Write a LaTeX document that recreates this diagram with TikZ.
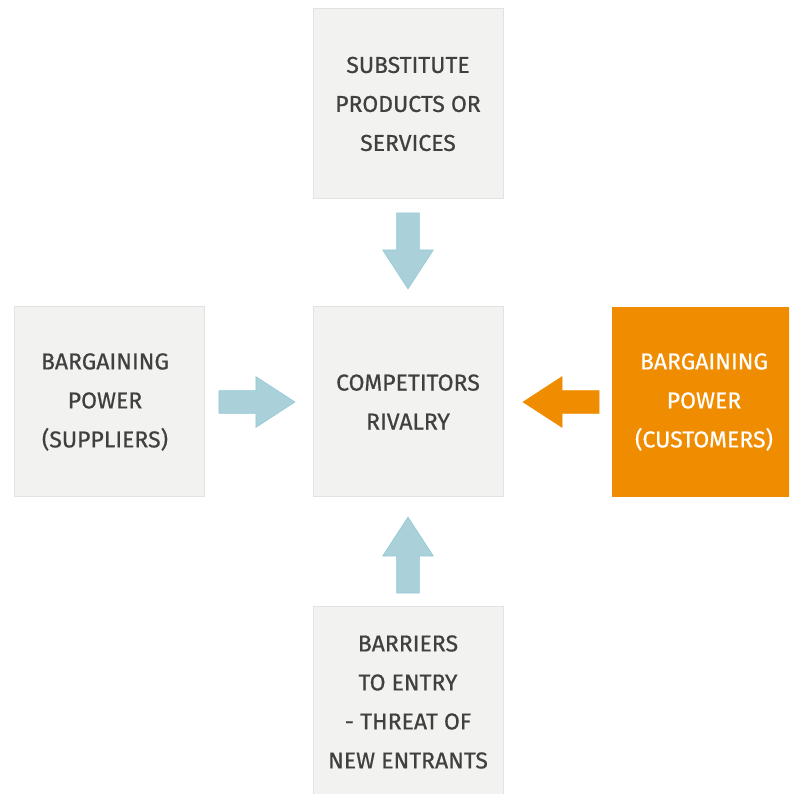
\documentclass[tikz,border=0pt]{standalone}
\usepackage{fontspec}
\setmainfont{Fira Sans}
\newfontfamily\labelfont{Fira Sans}[FakeBold=0.6]
\usetikzlibrary{shapes.arrows,calc}
\definecolor{boxfill}{HTML}{F2F2F1}
\definecolor{boxline}{HTML}{E2E2E2}
\definecolor{txt}{HTML}{404040}
\definecolor{orng}{HTML}{F08C00}
\definecolor{arrfill}{HTML}{AAD1DA}
\definecolor{arrline}{HTML}{92C9D6}
\tikzset{
  forcebox/.style={draw=boxline,line width=1pt,fill=boxfill,minimum width=190pt,minimum height=190pt,
    inner sep=0pt,align=center,text=txt,font=\labelfont\fontsize{23}{39}\selectfont},
  hotbox/.style={forcebox,draw=none,fill=orng,text=white},
  blockarrow/.style={single arrow,draw=arrline,line width=0.6pt,fill=arrfill,inner sep=11pt,
    minimum height=76pt,minimum width=50pt,single arrow head extend=14pt,single arrow head indent=0pt,
    single arrow tip angle=66,anchor=tip},
  hotarrow/.style={blockarrow,draw=orng,fill=orng}
}
\begin{document}
\begin{tikzpicture}[x=1pt,y=1pt]
\useasboundingbox (0,0) rectangle (789,794);
\clip (0,0) rectangle (789,794);
\node[forcebox] (top) at (408,690) {SUBSTITUTE\\PRODUCTS OR\\SERVICES};
\node[forcebox] (mid) at (408,392) {COMPETITORS\\RIVALRY};
\node[forcebox] (left) at (109.5,392) {\hspace*{-9pt}BARGAINING\\\hspace*{-9pt}POWER\\\hspace*{-9pt}(SUPPLIERS)};
\node[hotbox] (right) at (707,392) {\hspace*{-6pt}BARGAINING\\\hspace*{-6pt}POWER\\\hspace*{-6pt}(CUSTOMERS)};
\node[forcebox] (bot) at (408,92) {BARRIERS\\TO ENTRY\\- THREAT OF\\NEW ENTRANTS};
\node[blockarrow,shape border rotate=270] (a1) at ($(mid.north)+(0,17)$) {};
\node[blockarrow,shape border rotate=0] (a2) at ($(mid.west)+(-17,0)$) {};
\node[hotarrow,shape border rotate=180] (a3) at ($(mid.east)+(19,0)$) {};
\node[blockarrow,shape border rotate=90] (a4) at ($(mid.south)+(0,-19)$) {};
\end{tikzpicture}
\end{document}
